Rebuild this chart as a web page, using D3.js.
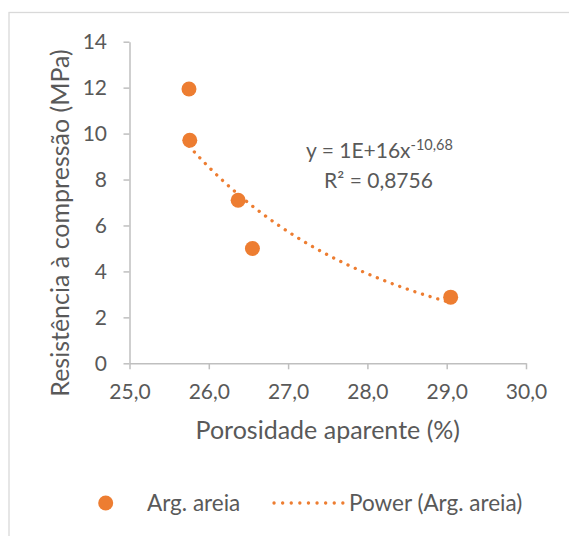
<!DOCTYPE html>
<html>
<head>
<meta charset="utf-8">
<script src="https://cdn.jsdelivr.net/npm/d3@7"></script>
<style>
  body { margin: 0; background: #fff; }
  text { font-family: Lato, "Open Sans", sans-serif; fill: #595959; }
</style>
</head>
<body>
<svg id="chart" width="569" height="536"></svg>
<script>
// porosidade aparente (%) and resistencia a compressao (MPa)
var porosidade = [25.75, 25.76, 26.37, 26.55, 29.05];
var resistencia = [11.94, 9.71, 7.1, 5.0, 2.88];
var xTicks = [25, 26, 27, 28, 29, 30];
var yTicks = [0, 2, 4, 6, 8, 10, 12, 14];
var seriesName = "Arg. areia";
var trendName = "Power (Arg. areia)";
var equation = ["y = 1E+16x", "-10,68"];
var rSquared = "R² = 0,8756";

var orange = "#ED7D31";

var svg = d3.select("#chart");

// outer chart frame, runs off the right and bottom edge
svg.append("rect")
  .attr("x", 9).attr("y", 12.5)
  .attr("width", 600).attr("height", 600)
  .attr("fill", "none")
  .attr("stroke", "#d9d9d9")
  .attr("stroke-width", 1.3);

var x = d3.scaleLinear().domain([25, 30]).range([129.5, 526]);
var y = d3.scaleLinear().domain([0, 14]).range([363.3, 41.7]);

var fmt = d3.formatLocale({decimal: ",", thousands: ".", grouping: [3], currency: ["", ""]}).format(".1f");

var xAxis = svg.append("g")
  .attr("transform", "translate(0," + y(0) + ")")
  .call(d3.axisBottom(x).tickValues(xTicks).tickFormat(fmt).tickSizeInner(6).tickSizeOuter(0));

var yAxis = svg.append("g")
  .attr("transform", "translate(" + x(25) + ",0)")
  .call(d3.axisLeft(y).tickValues(yTicks).tickSizeInner(6).tickSizeOuter(0).tickPadding(16.5));

[xAxis, yAxis].forEach(function(a) {
  a.selectAll("path, line").attr("stroke", "#bfbfbf").attr("stroke-width", 1.5);
  a.selectAll("text").style("font-size", "21px").attr("fill", "#595959");
});
xAxis.selectAll("text").attr("y", 36).attr("dy", null);

// power trendline fitted on the logs of the data
var lx = porosidade.map(Math.log), ly = resistencia.map(Math.log);
var mx = d3.mean(lx), my = d3.mean(ly);
var b = d3.sum(lx, function(v, i) { return (v - mx) * (ly[i] - my); }) /
        d3.sum(lx, function(v) { return (v - mx) * (v - mx); });
var a = Math.exp(my - b * mx);
var x0 = d3.min(porosidade), x1 = d3.max(porosidade);
var trend = d3.range(0, 61).map(function(i) {
  var xv = x0 + (x1 - x0) * i / 60;
  return [xv, a * Math.pow(xv, b)];
});

svg.append("path")
  .datum(trend)
  .attr("d", d3.line().x(function(d) { return x(d[0]); }).y(function(d) { return y(d[1]); }))
  .attr("fill", "none")
  .attr("stroke", orange)
  .attr("stroke-width", 3.3)
  .attr("stroke-linecap", "round")
  .attr("stroke-dasharray", "0.1 7.9");

svg.append("g").selectAll("circle")
  .data(porosidade)
  .enter().append("circle")
  .attr("cx", function(d) { return x(d); })
  .attr("cy", function(d, i) { return y(resistencia[i]); })
  .attr("r", 7.5)
  .attr("fill", orange);

// equation label
var eq = svg.append("text")
  .attr("x", 306).attr("y", 158)
  .style("font-size", "21px");
eq.append("tspan").text(equation[0]);
eq.append("tspan").attr("dy", -8).style("font-size", "14.5px").text(equation[1]);

svg.append("text")
  .attr("x", 378.5).attr("y", 188)
  .attr("text-anchor", "middle")
  .style("font-size", "21px")
  .text(rSquared);

// axis titles
svg.append("text")
  .attr("x", 327.8).attr("y", 439)
  .attr("text-anchor", "middle")
  .style("font-size", "25px")
  .text("Porosidade aparente (%)");

svg.append("text")
  .attr("transform", "translate(69,223) rotate(-90)")
  .attr("text-anchor", "middle")
  .style("font-size", "25px")
  .text("Resistência à compressão (MPa)");

// legend
var legend = svg.append("g").attr("transform", "translate(0,503)");
legend.append("circle").attr("cx", 105.7).attr("cy", 0).attr("r", 7.5).attr("fill", orange);
legend.append("text").attr("x", 147).attr("y", 7.5).style("font-size", "22.5px").text(seriesName);
legend.append("line")
  .attr("x1", 274).attr("x2", 343).attr("y1", 0).attr("y2", 0)
  .attr("stroke", orange).attr("stroke-width", 3.3)
  .attr("stroke-linecap", "round").attr("stroke-dasharray", "0.1 8.5");
legend.append("text").attr("x", 349).attr("y", 7.5).style("font-size", "22.5px").text(trendName);
</script>
</body>
</html>
